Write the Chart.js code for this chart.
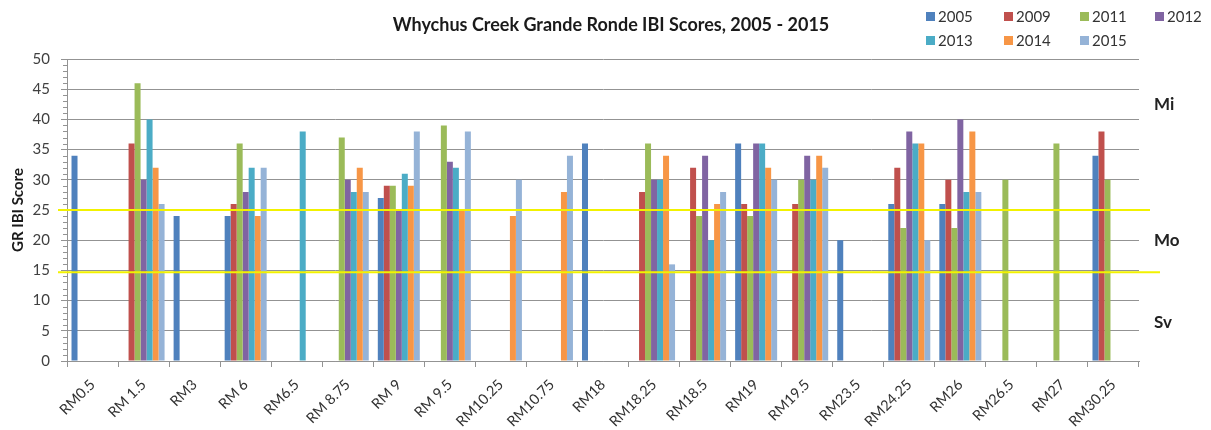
<!DOCTYPE html>
<html>
<head>
<meta charset="utf-8">
<script src="https://cdn.jsdelivr.net/npm/chart.js@4.4.1/dist/chart.umd.min.js"></script>
<style>
    html, body { margin: 0; padding: 0; background: #fff; }
</style>
</head>
<body>
<canvas id="chart" width="1211" height="430"></canvas>
<script>
const TITLE = "Whychus Creek Grande Ronde IBI Scores, 2005 - 2015";

const sites = ["RM0.5", "RM 1.5", "RM3", "RM 6", "RM6.5", "RM 8.75", "RM 9", "RM 9.5", "RM10.25", "RM10.75",
    "RM18", "RM18.25", "RM18.5", "RM19", "RM19.5", "RM23.5", "RM24.25", "RM26", "RM26.5", "RM27", "RM30.25"];

const y2005 = [34, null, 24, 24, null, null, 27, null, null, null, 36, null, null, 36, null, 20, 26, 26, null, null, 34];
const y2009 = [null, 36, null, 26, null, null, 29, null, null, null, null, 28, 32, 26, 26, null, 32, 30, null, null, 38];
const y2011 = [null, 46, null, 36, null, 37, 29, 39, null, null, null, 36, 24, 24, 30, null, 22, 22, 30, 36, 30];
const y2012 = [null, 30, null, 28, null, 30, 25, 33, null, null, null, 30, 34, 36, 34, null, 38, 40, null, null, null];
const y2013 = [null, 40, null, 32, 38, 28, 31, 32, null, null, null, 30, 20, 36, 30, null, 36, 28, null, null, null];
const y2014 = [null, 32, null, 24, null, 32, 29, 25, 24, 28, null, 34, 26, 32, 34, null, 36, 38, null, null, null];
const y2015 = [null, 26, null, 32, null, 28, 38, 38, 30, 34, null, 16, 28, 30, 32, null, 20, 28, null, null, null];

const years = ["2005", "2009", "2011", "2012", "2013", "2014", "2015"];
const colors = ["#4F81BD", "#C0504D", "#9BBB59", "#8064A2", "#4BACC6", "#F79646", "#95B3D7"];

// 등급 경계선 (Mi / Mo / Sv)
const thresholds = [25, 14.7];
const bands = ["Mi", "Mo", "Sv"];
const bandValues = [42.5, 20, 6.3];

const FONT = "Lato, 'Open Sans', sans-serif";
const GRID = "#939393";

const decor = {
    id: "decor",
    beforeDatasetsDraw(chart) {
        // 보조 눈금 (1 단위)
        const ctx = chart.ctx, y = chart.scales.y, left = chart.chartArea.left;
        ctx.save();
        ctx.strokeStyle = GRID;
        ctx.lineWidth = 1;
        for (let v = 0; v <= 50; v++) {
            if (v % 5 === 0) continue;
            const py = Math.round(y.getPixelForValue(v)) + 0.5;
            ctx.beginPath();
            ctx.moveTo(left - 4, py);
            ctx.lineTo(left, py);
            ctx.stroke();
        }
        ctx.restore();
    },
    afterDatasetsDraw(chart) {
        const ctx = chart.ctx, y = chart.scales.y, area = chart.chartArea;
        ctx.save();
        ctx.strokeStyle = "#F2F200";
        ctx.lineWidth = 2;
        thresholds.forEach((t, i) => {
            const py = y.getPixelForValue(t);
            ctx.beginPath();
            ctx.moveTo(area.left - 9, py);
            ctx.lineTo(area.right + (i === 0 ? 11 : 21), py);
            ctx.stroke();
        });
        ctx.restore();
    },
    afterDraw(chart) {
        const ctx = chart.ctx, y = chart.scales.y;
        ctx.save();
        // 제목
        ctx.fillStyle = "#1a1a1a";
        ctx.font = "bold 18px " + FONT;
        ctx.textAlign = "center";
        ctx.textBaseline = "middle";
        ctx.fillText(TITLE, 611, 25);

        // 범례 (2줄)
        const cols = [926, 1004, 1080, 1155];
        ctx.font = "15px " + FONT;
        ctx.textAlign = "left";
        chart.data.datasets.forEach((ds, i) => {
            const x = cols[i % 4];
            const cy = i < 4 ? 16 : 40;
            ctx.fillStyle = ds.backgroundColor;
            ctx.fillRect(x, cy - 4, 9, 9);
            ctx.fillStyle = "#333";
            ctx.fillText(ds.label, x + 12, cy + 1);
        });

        // 등급 라벨
        ctx.font = "bold 17px " + FONT;
        ctx.fillStyle = "#222";
        bands.forEach((b, i) => {
            ctx.fillText(b, 1154, y.getPixelForValue(bandValues[i]));
        });
        ctx.restore();
    }
};

new Chart(document.getElementById("chart"), {
    type: "bar",
    data: {
        labels: sites,
        datasets: [y2005, y2009, y2011, y2012, y2013, y2014, y2015].map((d, i) => ({
            label: years[i],
            data: d,
            backgroundColor: colors[i],
            borderWidth: 0,
            categoryPercentage: 0.823,
            barPercentage: 1.0
        }))
    },
    options: {
        responsive: false,
        animation: false,
        layout: { padding: { top: 59, right: 72, left: 0, bottom: 0 } },
        plugins: {
            legend: { display: false },
            title: { display: false },
            tooltip: { enabled: false }
        },
        scales: {
            x: {
                afterFit(scale) { scale.height = 69; },
                grid: { drawOnChartArea: false, color: GRID, tickLength: 6, offset: true },
                border: { color: GRID },
                ticks: {
                    minRotation: 45, maxRotation: 45, autoSkip: false,
                    color: "#333", font: { family: FONT, size: 14.5 }, padding: 9
                }
            },
            y: {
                min: 0, max: 50,
                afterFit(scale) { scale.width = 67; },
                grid: { color: GRID, tickLength: 6 },
                border: { color: GRID },
                ticks: { stepSize: 5, color: "#404040", font: { family: FONT, size: 15 }, padding: 11 },
                title: {
                    display: true, text: "GR IBI Score", color: "#1a1a1a",
                    font: { family: FONT, size: 15, weight: "bold" }, padding: { top: 9, bottom: 0 }
                }
            }
        }
    },
    plugins: [decor]
});
</script>
</body>
</html>
